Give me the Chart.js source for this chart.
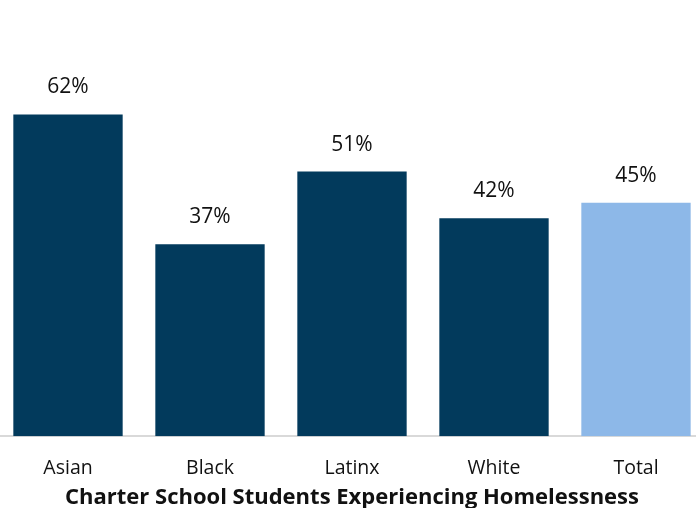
<!DOCTYPE html>
<html>
<head>
<meta charset="utf-8">
<script src="https://cdn.jsdelivr.net/npm/chart.js@4"></script>
<style>
  html, body { margin: 0; padding: 0; background: #fff; overflow: hidden; }
  #wrap { position: absolute; left: -3px; top: 0; width: 710px; height: 508px; }
</style>
</head>
<body>
<div id="wrap"><canvas id="chart"></canvas></div>
<script>
const categories = ["Asian", "Black", "Latinx", "White", "Total"];
const shares = [62, 37, 51, 42, 45];
const barColors = ["#023a5c", "#023a5c", "#023a5c", "#023a5c", "#8db8e8"];
const axisTitle = "Charter School Students Experiencing Homelessness";

// draws the % figure above each bar
const valueLabels = {
  id: "valueLabels",
  afterDatasetsDraw(chart) {
    const ctx = chart.ctx;
    const meta = chart.getDatasetMeta(0);
    ctx.save();
    ctx.font = "21px 'Open Sans', sans-serif";
    ctx.fillStyle = "#111";
    ctx.textAlign = "center";
    ctx.textBaseline = "middle";
    meta.data.forEach((bar, i) => {
      ctx.fillText(shares[i] + "%", bar.x, bar.y - 27);
    });
    ctx.restore();
  }
};

new Chart("chart", {
  type: "bar",
  data: {
    labels: categories,
    datasets: [{
      data: shares,
      backgroundColor: barColors,
      categoryPercentage: 1,
      barPercentage: 0.77
    }]
  },
  options: {
    responsive: true,
    maintainAspectRatio: false,
    animation: false,
    layout: { padding: { top: 73, left: 0, right: 0, bottom: -3 } },
    plugins: {
      legend: { display: false },
      title: { display: false },
      tooltip: { enabled: false }
    },
    scales: {
      x: {
        grid: { display: false, drawTicks: false },
        border: { color: "#d9d9d9", width: 2 },
        ticks: {
          color: "#111",
          padding: 21,
          font: { family: "'Open Sans', sans-serif", size: 19.5 }
        },
        title: {
          display: true,
          text: axisTitle,
          color: "#111",
          padding: { top: -17, bottom: 0 },
          font: { family: "'Open Sans', sans-serif", size: 22, weight: "bold" }
        }
      },
      y: {
        display: false,
        min: 0,
        max: 70
      }
    }
  },
  plugins: [valueLabels]
});
</script>
</body>
</html>
